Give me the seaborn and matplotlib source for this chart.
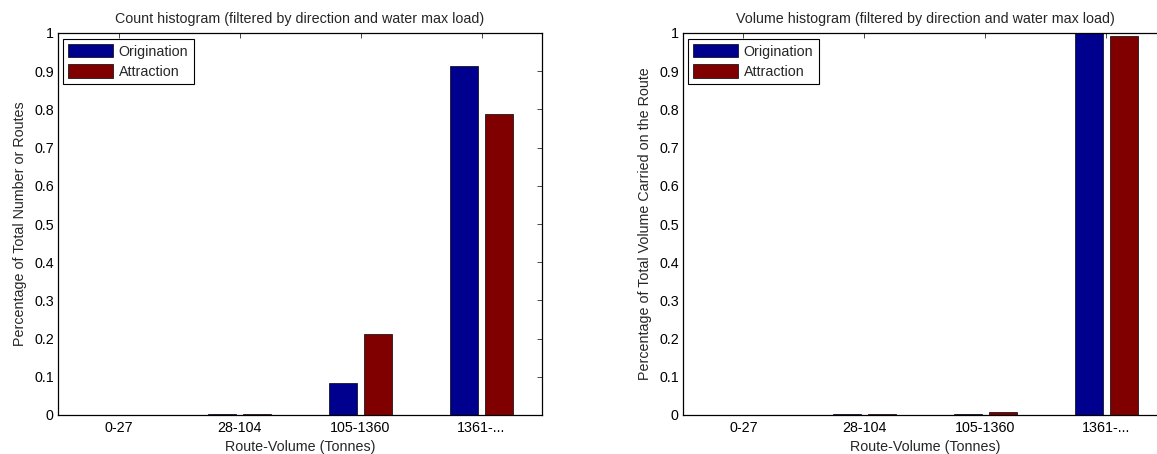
import matplotlib
matplotlib.use("Agg")
import matplotlib.pyplot as plt
import matplotlib.patches as mpatches
import numpy as np
import pandas as pd
import seaborn as sns

# Route-volume bins (tonnes)
categories = ["0-27", "28-104", "105-1360", "1361-..."]
series_names = ["Origination", "Attraction"]

# Share of routes falling in each bin
count_origination = [0.0005, 0.003, 0.085, 0.913]
count_attraction = [0.0005, 0.003, 0.212, 0.787]

# Share of total volume carried by routes in each bin
volume_origination = [0.0003, 0.002, 0.002, 1.0]
volume_attraction = [0.0003, 0.002, 0.008, 0.992]

y_ticks = [0, 0.1, 0.2, 0.3, 0.4, 0.5, 0.6, 0.7, 0.8, 0.9, 1]

colors = {"Origination": "#00008F", "Attraction": "#800000"}

sns.set_style("white")
plt.rcParams["font.family"] = ["Liberation Sans", "DejaVu Sans"]
FS = 10.3
plt.rcParams["font.size"] = FS


def long_frame(orig, attr):
    rows = []
    for cat, o, a in zip(categories, orig, attr):
        rows.append({"bin": cat, "series": "Origination", "share": o})
        rows.append({"bin": cat, "series": "Attraction", "share": a})
    return pd.DataFrame(rows)


W, H = 1157, 454
fig = plt.figure(figsize=(W / 100, H / 100), dpi=100)
ax_w, ax_h = 484, 382
ax1 = fig.add_axes([58 / W, 39 / H, ax_w / W, ax_h / H])
ax2 = fig.add_axes([683 / W, 39 / H, ax_w / W, ax_h / H])

panels = [
    (ax1, long_frame(count_origination, count_attraction),
     "Count histogram (filtered by direction and water max load)",
     "Percentage of Total Number or Routes"),
    (ax2, long_frame(volume_origination, volume_attraction),
     "Volume histogram (filtered by direction and water max load)",
     "Percentage of Total Volume Carried on the Route"),
]

for ax, df, title, ylabel in panels:
    sns.barplot(data=df, x="bin", y="share", hue="series",
                hue_order=series_names, order=categories,
                palette=colors, saturation=1, width=0.58, gap=0.21,
                edgecolor="black", linewidth=0.5,
                errorbar=None, legend=False, ax=ax)
    ax.set_xlim(-0.5, 3.5)
    ax.set_ylim(0, 1)
    ax.set_yticks(y_ticks)
    ax.set_yticklabels([f"{v:g}" for v in y_ticks])
    ax.set_title(title, fontsize=FS, pad=7)
    ax.set_xlabel("Route-Volume (Tonnes)", fontsize=FS, labelpad=4)
    ax.set_ylabel(ylabel, fontsize=FS, labelpad=5)
    ax.tick_params(direction="in", top=True, right=True, length=3.6,
                   width=0.5, colors="black", labelsize=FS, pad=4)
    ax.tick_params(axis="y", pad=3)
    for sp in ax.spines.values():
        sp.set_visible(True)
        sp.set_color("black")
        sp.set_linewidth(0.9)

    handles = [mpatches.Patch(facecolor=colors[s], edgecolor="black",
                              linewidth=0.5, label=s) for s in series_names]
    leg = ax.legend(handles=handles, loc="upper left",
                    bbox_to_anchor=(0.01, 0.985), borderaxespad=0,
                    fontsize=FS, handlelength=3.15, handleheight=1.05,
                    handletextpad=0.36, labelspacing=0.4, borderpad=0.38,
                    fancybox=False, framealpha=1)
    leg.get_frame().set_edgecolor("black")
    leg.get_frame().set_linewidth(0.8)

fig.savefig("out.png", dpi=100)
